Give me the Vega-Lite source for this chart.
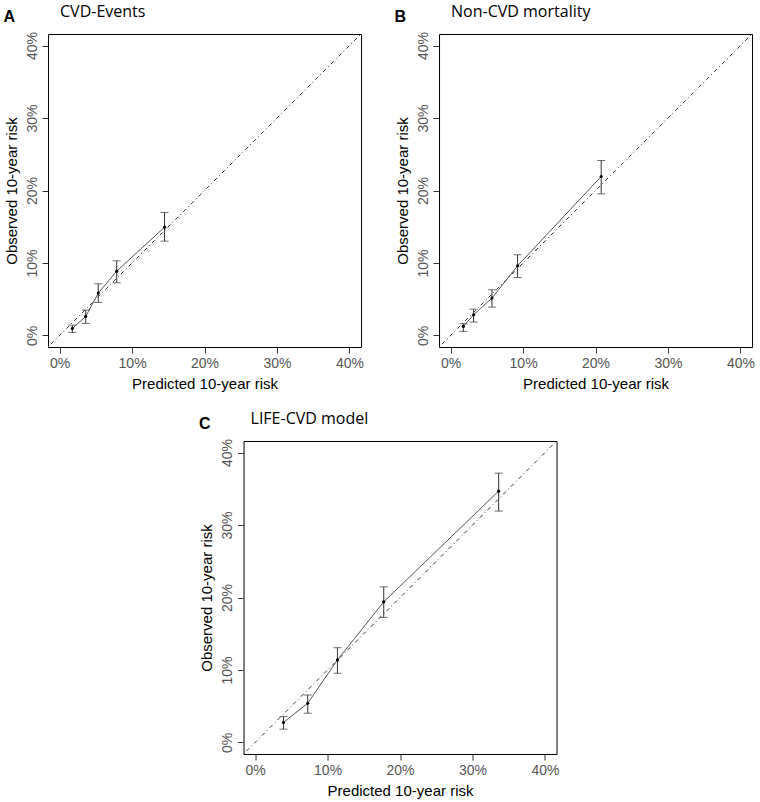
{
  "$schema": "https://vega.github.io/schema/vega-lite/v6.json",
  "padding": {"left": 3, "top": 3, "right": 3, "bottom": 3},
  "background": "white",
  "datasets": {
    "diag": [{"v": -1.6}, {"v": 41.6}],
    "A": [
      {"pred": 1.75, "obs": 0.95, "lo": 0.41, "hi": 1.42},
      {"pred": 3.6, "obs": 2.62, "lo": 1.65, "hi": 3.5},
      {"pred": 5.33, "obs": 5.84, "lo": 4.55, "hi": 7.12},
      {"pred": 7.88, "obs": 8.87, "lo": 7.26, "hi": 10.29},
      {"pred": 14.48, "obs": 14.94, "lo": 13.01, "hi": 16.97}
    ],
    "B": [
      {"pred": 1.75, "obs": 1.24, "lo": 0.55, "hi": 1.61},
      {"pred": 3.17, "obs": 2.85, "lo": 1.84, "hi": 3.63},
      {"pred": 5.7, "obs": 5.15, "lo": 3.91, "hi": 6.3},
      {"pred": 9.24, "obs": 9.61, "lo": 8.0, "hi": 11.13},
      {"pred": 20.78, "obs": 21.93, "lo": 19.54, "hi": 24.14}
    ],
    "C": [
      {"pred": 3.91, "obs": 2.75, "lo": 1.83, "hi": 3.58},
      {"pred": 7.26, "obs": 5.41, "lo": 4.04, "hi": 6.56},
      {"pred": 11.36, "obs": 11.38, "lo": 9.54, "hi": 13.07},
      {"pred": 17.75, "obs": 19.4, "lo": 17.25, "hi": 21.47},
      {"pred": 33.61, "obs": 34.68, "lo": 31.93, "hi": 37.16}
    ]
  },
  "vconcat": [
    {
      "hconcat": [
        {
          "title": {"text": "A", "font": "Liberation Sans", "fontWeight": "bold", "fontSize": 16, "anchor": "start", "frame": "bounds", "offset": -22},
          "vconcat": [
            {
              "width": 313, "height": 313,
              "title": {"text": "CVD-Events", "dx": 12},
              "layer": [
                {"data": {"name": "diag"}, "mark": {"type": "line", "color": "#333", "strokeWidth": 1, "strokeDash": [1, 3, 4, 3], "clip": true},
                 "encoding": {"x": {"field": "v", "type": "quantitative", "scale": {"domain": [-1.6, 41.6], "nice": false, "zero": false}, "title": "Predicted 10-year risk", "axis": {"values": [0, 10, 20, 30, 40]}},
                              "y": {"field": "v", "type": "quantitative", "scale": {"domain": [-1.6, 41.6], "nice": false, "zero": false}, "title": "Observed 10-year risk", "axis": {"values": [0, 10, 20, 30, 40]}}}},
                {"data": {"name": "A"}, "mark": {"type": "line", "color": "#555", "strokeWidth": 1},
                 "encoding": {"x": {"field": "pred", "type": "quantitative", "title": "Predicted 10-year risk"}, "y": {"field": "obs", "type": "quantitative", "title": "Observed 10-year risk"}}},
                {"data": {"name": "A"}, "mark": {"type": "errorbar", "color": "#333", "ticks": {"size": 8}},
                 "encoding": {"x": {"field": "pred", "type": "quantitative", "title": "Predicted 10-year risk"}, "y": {"field": "lo", "type": "quantitative", "title": "Observed 10-year risk"}, "y2": {"field": "hi"}}},
                {"data": {"name": "A"}, "mark": {"type": "point", "filled": true, "color": "#000", "size": 10, "opacity": 1},
                 "encoding": {"x": {"field": "pred", "type": "quantitative", "title": "Predicted 10-year risk"}, "y": {"field": "obs", "type": "quantitative", "title": "Observed 10-year risk"}}}
              ]
            }
          ]
        },
        {
          "title": {"text": "B", "font": "Liberation Sans", "fontWeight": "bold", "fontSize": 16, "anchor": "start", "frame": "bounds", "offset": -22},
          "vconcat": [
            {
              "width": 313, "height": 313,
              "title": {"text": "Non-CVD mortality", "dx": 12},
              "layer": [
                {"data": {"name": "diag"}, "mark": {"type": "line", "color": "#333", "strokeWidth": 1, "strokeDash": [1, 3, 4, 3], "clip": true},
                 "encoding": {"x": {"field": "v", "type": "quantitative", "scale": {"domain": [-1.6, 41.6], "nice": false, "zero": false}, "title": "Predicted 10-year risk", "axis": {"values": [0, 10, 20, 30, 40]}},
                              "y": {"field": "v", "type": "quantitative", "scale": {"domain": [-1.6, 41.6], "nice": false, "zero": false}, "title": "Observed 10-year risk", "axis": {"values": [0, 10, 20, 30, 40]}}}},
                {"data": {"name": "B"}, "mark": {"type": "line", "color": "#555", "strokeWidth": 1},
                 "encoding": {"x": {"field": "pred", "type": "quantitative", "title": "Predicted 10-year risk"}, "y": {"field": "obs", "type": "quantitative", "title": "Observed 10-year risk"}}},
                {"data": {"name": "B"}, "mark": {"type": "errorbar", "color": "#333", "ticks": {"size": 8}},
                 "encoding": {"x": {"field": "pred", "type": "quantitative", "title": "Predicted 10-year risk"}, "y": {"field": "lo", "type": "quantitative", "title": "Observed 10-year risk"}, "y2": {"field": "hi"}}},
                {"data": {"name": "B"}, "mark": {"type": "point", "filled": true, "color": "#000", "size": 10, "opacity": 1},
                 "encoding": {"x": {"field": "pred", "type": "quantitative", "title": "Predicted 10-year risk"}, "y": {"field": "obs", "type": "quantitative", "title": "Observed 10-year risk"}}}
              ]
            }
          ]
        }
      ],
      "spacing": 30
    },
    {
      "title": {"text": "C", "font": "Liberation Sans", "fontWeight": "bold", "fontSize": 16, "anchor": "start", "frame": "bounds", "offset": -22},
      "vconcat": [
        {
          "width": 313, "height": 313,
          "title": {"text": "LIFE-CVD model", "dx": 7},
          "layer": [
            {"data": {"name": "diag"}, "mark": {"type": "line", "color": "#333", "strokeWidth": 1, "strokeDash": [1, 3, 4, 3], "clip": true},
             "encoding": {"x": {"field": "v", "type": "quantitative", "scale": {"domain": [-1.6, 41.6], "nice": false, "zero": false}, "title": "Predicted 10-year risk", "axis": {"values": [0, 10, 20, 30, 40]}},
                          "y": {"field": "v", "type": "quantitative", "scale": {"domain": [-1.6, 41.6], "nice": false, "zero": false}, "title": "Observed 10-year risk", "axis": {"values": [0, 10, 20, 30, 40]}}}},
            {"data": {"name": "C"}, "mark": {"type": "line", "color": "#555", "strokeWidth": 1},
             "encoding": {"x": {"field": "pred", "type": "quantitative", "title": "Predicted 10-year risk"}, "y": {"field": "obs", "type": "quantitative", "title": "Observed 10-year risk"}}},
            {"data": {"name": "C"}, "mark": {"type": "errorbar", "color": "#333", "ticks": {"size": 8}},
             "encoding": {"x": {"field": "pred", "type": "quantitative", "title": "Predicted 10-year risk"}, "y": {"field": "lo", "type": "quantitative", "title": "Observed 10-year risk"}, "y2": {"field": "hi"}}},
            {"data": {"name": "C"}, "mark": {"type": "point", "filled": true, "color": "#000", "size": 10, "opacity": 1},
             "encoding": {"x": {"field": "pred", "type": "quantitative", "title": "Predicted 10-year risk"}, "y": {"field": "obs", "type": "quantitative", "title": "Observed 10-year risk"}}}
          ]
        }
      ]
    }
  ],
  "center": true,
  "spacing": 18,
  "config": {
    "view": {"stroke": "#000", "strokeWidth": 1},
    "title": {"anchor": "start", "font": "Open Sans", "fontSize": 16, "fontWeight": "normal", "color": "#000", "frame": "group", "offset": 12},
    "axis": {
      "grid": false, "domain": false,
      "tickColor": "#333", "tickSize": 6,
      "labelExpr": "datum.value + '%'",
      "labelFont": "Liberation Sans", "labelFontSize": 14, "labelColor": "#555", "labelPadding": 3,
      "titleFont": "Liberation Sans", "titleFontSize": 15, "titleFontWeight": "normal", "titleColor": "#000"
    },
    "axisX": {"titlePadding": 6},
    "axisY": {"labelAngle": 270, "labelAlign": "center", "labelBaseline": "bottom", "titlePadding": 6}
  }
}
